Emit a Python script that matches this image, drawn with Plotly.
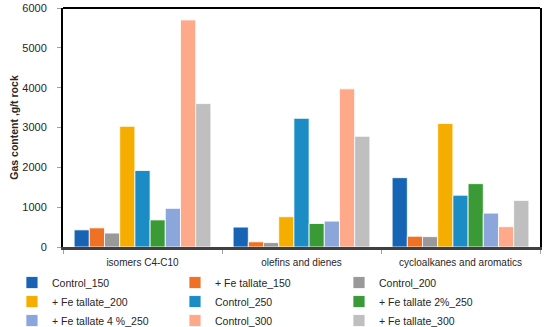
import plotly.graph_objects as go

categories = ["isomers C4-C10", "olefins and dienes", "cycloalkanes and aromatics"]

series_names = ["Control_150", "+ Fe tallate_150", "Control_200",
                "+ Fe tallate_200", "Control_250", "+ Fe tallate 2%_250",
                "+ Fe tallate 4 %_250", "Control_300", "+ Fe tallate_300"]

control_150 = [430, 500, 1740]
fe_150 = [480, 130, 270]
control_200 = [350, 110, 260]
fe_200 = [3030, 760, 3100]
control_250 = [1920, 3230, 1300]
fe2_250 = [680, 590, 1590]
fe4_250 = [970, 650, 850]
control_300 = [5700, 3970, 510]
fe_300 = [3600, 2780, 1170]

values = [control_150, fe_150, control_200, fe_200, control_250,
          fe2_250, fe4_250, control_300, fe_300]

colors = ["#1764B4", "#EF7124", "#999999", "#F5AE00", "#1B8DC4",
          "#3A9A35", "#8AA6DA", "#FFA98B", "#BFBFBF"]

y_ticks = [0, 1000, 2000, 3000, 4000, 5000, 6000]

legend_ids = ["legend", "legend2", "legend3"]

fig = go.Figure()
for i, (name, vals, col) in enumerate(zip(series_names, values, colors)):
    fig.add_trace(go.Bar(x=categories, y=vals, name=name, legend=legend_ids[i % 3],
                         marker=dict(color=col, line=dict(color="white", width=0.8))))

font_family = "Liberation Sans, Arial, sans-serif"

leg_common = dict(orientation="v", xanchor="left", y=-0.088, yanchor="top",
                  itemwidth=30, font=dict(size=10.5, color="#262626"),
                  traceorder="normal", bgcolor="rgba(0,0,0,0)", tracegroupgap=0)

fig.update_layout(
    width=550, height=327,
    margin=dict(l=63, r=10, t=8, b=80, autoexpand=False),
    paper_bgcolor="white", plot_bgcolor="white",
    barmode="group", bargap=0.14, bargroupgap=0,
    font=dict(family=font_family, size=11, color="#262626"),
    showlegend=True,
    legend=dict(x=-0.107, **leg_common),
    legend2=dict(x=0.2348, **leg_common),
    legend3=dict(x=0.5786, **leg_common),
    xaxis=dict(showline=True, linecolor="#404040", linewidth=2.5,
               ticks="outside", tickson="boundaries", ticklen=4, tickcolor="#A0A0A0",
               ticklabelstandoff=4,
               tickfont=dict(size=10, color="#262626"), showgrid=False),
    yaxis=dict(range=[0, 6000], tickvals=y_ticks, showline=True, linecolor="black",
               linewidth=2, mirror=True, ticks="outside", ticklen=4, tickcolor="#A0A0A0",
               ticklabelstandoff=8,
               showgrid=False, zeroline=False,
               tickfont=dict(size=11, color="#262626"),
               title=dict(text="<b>Gas content ,g/t rock</b>", font=dict(size=10.5, color="#262626"),
                          standoff=2)),
    shapes=[dict(type="line", xref="paper", yref="paper", x0=0, x1=1, y0=1, y1=1,
                 line=dict(color="black", width=2))],
)

# remove the browser's default 8px body margin so the 550x327 figure fills the window
fig.write_html("out.html",
               config={"displayModeBar": False},
               post_script="document.body.style.margin='0px';document.body.style.overflow='hidden';")
